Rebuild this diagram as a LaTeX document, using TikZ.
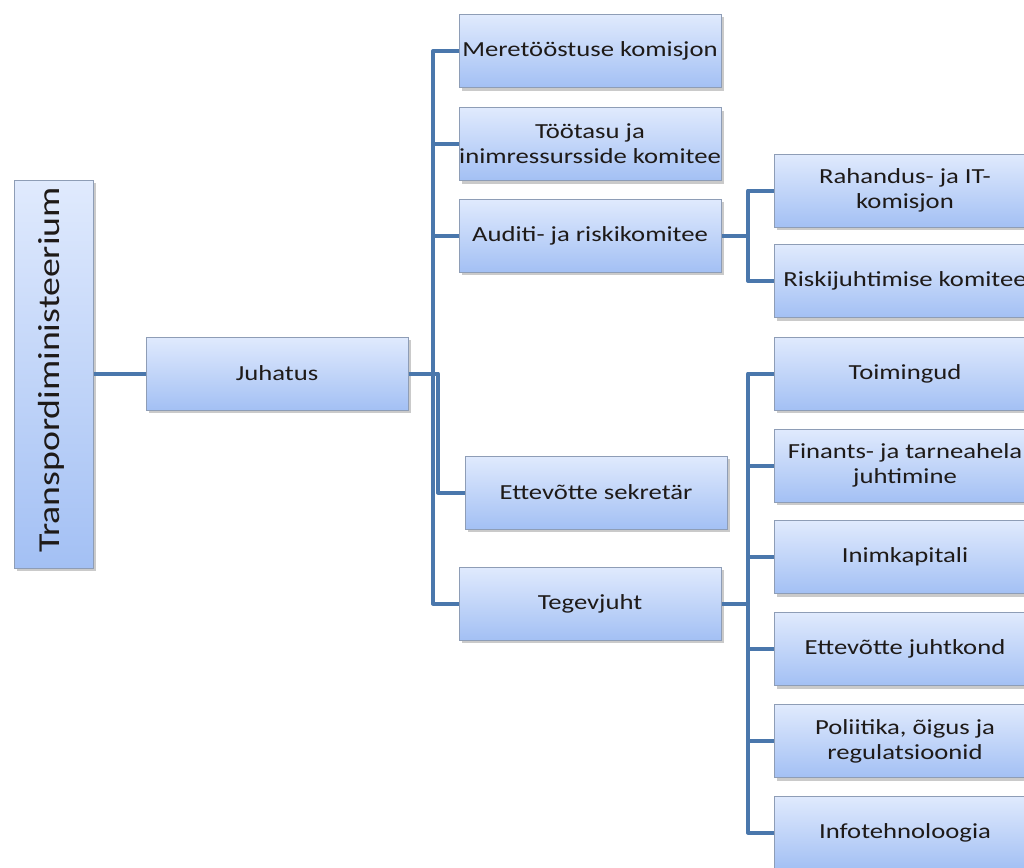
\documentclass[tikz,border=0pt]{standalone}
\usepackage{fontspec}
\setmainfont{Carlito}[FakeStretch=1.24]
\usetikzlibrary{shadows}
\definecolor{boxtop}{HTML}{E0EAFD}
\definecolor{boxbot}{HTML}{A3C0F4}
\definecolor{boxline}{HTML}{8E9DB6}
\definecolor{conncol}{HTML}{4A77AC}
\definecolor{txt}{HTML}{1E1A18}
\tikzset{
  orgbox/.style={rectangle, minimum width=262pt, minimum height=73pt, inner sep=0pt,
    top color=boxtop, bottom color=boxbot, draw=boxline, line width=1pt,
    align=center, text=txt, font=\fontsize{21.5}{25}\selectfont,
    drop shadow={shadow xshift=2.5pt, shadow yshift=-3pt, opacity=0.35, fill=black!60}},
  conn/.style={draw=conncol, line width=4pt, line join=round}
}
\begin{document}
\begin{tikzpicture}[x=1pt,y=-1pt]
\useasboundingbox (0,0) rectangle (1024,867);
\clip (0,0) rectangle (1024,867);
% nodes
\node[orgbox, minimum width=79pt, minimum height=388pt] (tm) at (53.5,374) {};
\node[rotate=90, text=txt, font=\fontsize{30.5}{34}\selectfont, inner sep=0pt] (tmlabel) at (51,370) {Transpordiministeerium};
\node[orgbox] (juh) at (277,373.5) {Juhatus};
\node[orgbox] (mer) at (590,51) {Meretööstuse komisjon};
\node[orgbox] (too) at (590,144) {Töötasu ja\\inimressursside komitee};
\node[orgbox] (aud) at (590,235.5) {Auditi- ja riskikomitee};
\node[orgbox] (sek) at (596,492.5) {Ettevõtte sekretär};
\node[orgbox] (teg) at (590,603.5) {Tegevjuht};
\node[orgbox] (rah) at (905,190.5) {Rahandus- ja IT-\\komisjon};
\node[orgbox] (ris) at (905,281) {Riskijuhtimise komitee};
\node[orgbox] (toi) at (905,373.5) {Toimingud};
\node[orgbox] (fin) at (905,465.5) {Finants- ja tarneahela\\juhtimine};
\node[orgbox] (ink) at (905,557) {Inimkapitali};
\node[orgbox] (ejk) at (905,649) {Ettevõtte juhtkond};
\node[orgbox] (pol) at (905,741) {Poliitika, õigus ja\\regulatsioonid};
\node[orgbox] (inf) at (905,832.5) {Infotehnoloogia};
% bus coordinates
\coordinate (bus) at (433,0);
\coordinate (busb) at (438,0);
\coordinate (busc) at (748,0);
% connectors
\draw[conn] (tm.east |- juh.west) -- (juh.west);
\draw[conn] (mer.west) -- (mer.west -| bus) -- (teg.west -| bus) -- (teg.west);
\draw[conn] (too.west) -- (too.west -| bus);
\draw[conn] (aud.west) -- (aud.west -| bus);
\draw[conn] (juh.east) -- (juh.east -| busb) -- (sek.west -| busb) -- (sek.west);
\draw[conn] (aud.east) -- (aud.east -| busc);
\draw[conn] (rah.west) -- (rah.west -| busc) -- (ris.west -| busc) -- (ris.west);
\draw[conn] (teg.east) -- (teg.east -| busc);
\draw[conn] (toi.west) -- (toi.west -| busc) -- (inf.west -| busc) -- (inf.west);
\draw[conn] (fin.west) -- (fin.west -| busc);
\draw[conn] (ink.west) -- (ink.west -| busc);
\draw[conn] (ejk.west) -- (ejk.west -| busc);
\draw[conn] (pol.west) -- (pol.west -| busc);
\end{tikzpicture}
\end{document}
